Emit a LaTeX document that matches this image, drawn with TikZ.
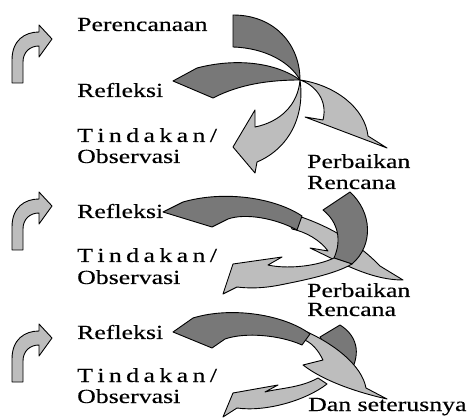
\documentclass[tikz,border=0pt]{standalone}
\usepackage{fontspec}
\newfontfamily\lblfont[FakeStretch=1.29,FakeBold=0.4]{Liberation Serif}
\definecolor{darkfill}{gray}{0.47}
\definecolor{lightfill}{gray}{0.74}
\newcommand{\tindakan}{T\kern4.4pt i\kern4.4pt n\kern4.4pt d\kern4.4pt a\kern4.4pt k\kern4.4pt a\kern4.4pt n\kern4.4pt /}
\tikzset{
  darkarrow/.style={fill=darkfill, draw=black, line width=0.9pt, line join=round},
  lightarrow/.style={fill=lightfill, draw=black, line width=0.9pt, line join=round},
  lbl/.style={anchor=base west, inner sep=0pt, font=\lblfont\fontsize{20}{24}\selectfont}
}
\begin{document}
\begin{tikzpicture}[x=1pt,y=1pt]
\useasboundingbox (0,0) rectangle (471,-419);
% small bent arrows on the left
\foreach \dy in {0,167,299} {
  \begin{scope}[yshift=-\dy pt]
    \draw[lightarrow] (12,-83) -- (12,-60) .. controls (12,-40) and (25,-32) .. (39,-32) -- (39,-25) -- (52,-39) -- (39,-57) -- (39,-46) .. controls (30,-46) and (23,-52) .. (23,-62) -- (23,-83) -- cycle;
  \end{scope}
}
% first cycle
\draw[darkarrow] (173,-81) -- (197,-68) .. controls (235,-58) and (275,-62) .. (300,-80) .. controls (270,-80) and (240,-84) .. (213,-98) -- cycle;
\draw[darkarrow] (233,-15) -- (233,-47) .. controls (265,-48) and (290,-62) .. (300,-80) .. controls (300,-45) and (275,-15) .. (233,-15) -- cycle;
\draw[lightarrow] (300,-80) .. controls (335,-85) and (365,-108) .. (368,-136) -- (387,-148) -- (305,-117) -- (323,-120) .. controls (328,-100) and (315,-85) .. (300,-80) -- cycle;
\draw[lightarrow] (300,-80) .. controls (305,-115) and (290,-148) .. (257,-162) -- (255,-173) -- (233,-147) -- (255,-110) -- (255,-127) .. controls (280,-122) and (298,-105) .. (300,-80) -- cycle;
% second cycle
\draw[lightarrow] (285,-212) .. controls (322,-222) and (355,-240) .. (380,-266) -- (403,-280) .. controls (370,-280) and (340,-262) .. (310,-248) -- (328,-251) .. controls (320,-240) and (306,-232) .. (292,-229) -- cycle;
\draw[darkarrow] (163,-212) -- (183,-202) .. controls (225,-190) and (275,-198) .. (302,-216) -- (297,-230) .. controls (275,-218) and (245,-213) .. (228,-219) -- (212,-227) -- cycle;
\draw[darkarrow] (323,-210) -- (350,-192) .. controls (372,-212) and (374,-245) .. (352,-264) -- (334,-258) .. controls (342,-240) and (338,-222) .. (323,-210) -- cycle;
\draw[lightarrow] (352,-264) .. controls (335,-274) and (305,-280) .. (280,-285) .. controls (260,-289) and (245,-288) .. (237,-287) -- (223,-294) -- (233,-264) -- (282,-257) -- (268,-265) .. controls (285,-269) and (315,-267) .. (334,-258) -- cycle;
% third cycle
\draw[darkarrow] (320,-337) -- (340,-325) .. controls (356,-335) and (362,-352) .. (350,-373) -- (335,-362) -- cycle;
\draw[lightarrow] (327,-384) .. controls (305,-401) and (265,-412) .. (237,-408) -- (223,-417) -- (233,-393) -- (278,-385) -- (265,-392) .. controls (280,-388) and (300,-388) .. (318,-378) -- cycle;
\draw[lightarrow] (298,-328) .. controls (335,-343) and (362,-366) .. (366,-388) -- (387,-399) .. controls (360,-393) and (325,-382) .. (303,-365) -- (323,-360) .. controls (318,-350) and (312,-342) .. (300,-338) -- cycle;
\draw[darkarrow] (173,-332) -- (193,-318) .. controls (232,-306) and (285,-315) .. (310,-334) -- (302,-345) .. controls (280,-335) and (245,-332) .. (225,-339) -- (212,-348) -- cycle;
% labels
\node[lbl] (plan) at (77,-31) {Perencanaan};
\node[lbl] (refl1) at (77,-97) {Refleksi};
\node[lbl] (act1) at (77,-142) {\tindakan};
\node[lbl] (obs1) at (77,-163) {Observasi};
\node[lbl] (fix1) at (307,-168) {Perbaikan};
\node[lbl] (rnc1) at (307,-189) {Rencana};
\node[lbl] (refl2) at (77,-218) {Refleksi};
\node[lbl] (act2) at (77,-262) {\tindakan};
\node[lbl] (obs2) at (77,-284) {Observasi};
\node[lbl] (fix2) at (307,-297) {Perbaikan};
\node[lbl] (rnc2) at (307,-316) {Rencana};
\node[lbl] (refl3) at (77,-339) {Refleksi};
\node[lbl] (act3) at (77,-382) {\tindakan};
\node[lbl] (obs3) at (77,-403) {Observasi};
\node[lbl] (next) at (308,-411) {Dan seterusnya};
\end{tikzpicture}
\end{document}
